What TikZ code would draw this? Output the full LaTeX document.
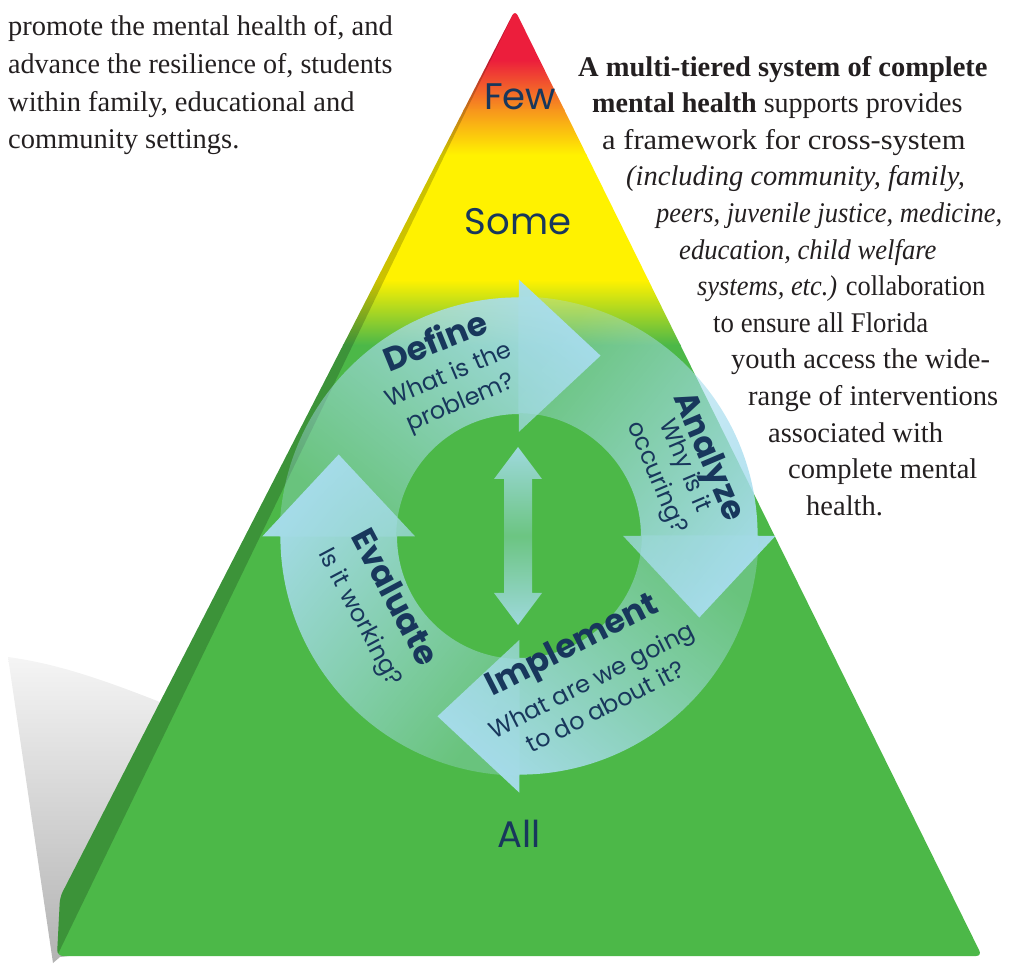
\documentclass[tikz,border=0pt]{standalone}
\usepackage{fontspec}
\setmainfont{Liberation Serif}
\newfontfamily\gothic{Poppins}
\usetikzlibrary{fadings}

\definecolor{pyrred}{RGB}{236,30,60}
\definecolor{pyrorange}{RGB}{247,148,29}
\definecolor{pyryellow}{RGB}{255,242,0}
\definecolor{pyrgreen}{RGB}{76,184,72}
\definecolor{ringblue}{RGB}{168,221,238}
\definecolor{navy}{RGB}{24,55,92}
\definecolor{ink}{RGB}{35,31,32}

\tikzfading[name=fade tail, left color=transparent!68, right color=transparent!5]
\tikzfading[name=fade middle, top color=transparent!10, bottom color=transparent!10, middle color=transparent!65]

\tikzset{
  tier/.style={font=\gothic\fontsize{37}{40}\selectfont, text=navy},
  cycletitle/.style={font=\gothic\bfseries\fontsize{33}{36}\selectfont, text=navy, inner sep=0pt},
  cyclenote/.style={font=\gothic\fontsize{24}{30}\selectfont, text=navy, inner sep=0pt, align=center},
  bodytext/.style={anchor=base west, inner sep=0pt, font=\fontsize{28.5}{36}\selectfont, text=ink}
}

\begin{document}
\begin{tikzpicture}[x=1pt, y=1pt]
\useasboundingbox (0,0) rectangle (1016,-964);

% grey shadow behind the pyramid
\shade[top color=gray!8, bottom color=gray!60] (8,-657) .. controls (60,-664) and (110,-682) .. (175,-708) -- (120,-950) -- (60,-957) -- (53,-963) -- cycle;

% pyramid, coloured in bands
\begin{scope}
\clip[rounded corners=6pt] (515,-10) -- (60,-897) -- (57,-956) -- (982,-956) -- cycle;
\fill[pyrred] (0,0) rectangle (1016,-61);
\fill[pyryellow] (0,-154) rectangle (1016,-281);
\fill[pyrgreen] (0,-344) rectangle (1016,-964);
\shade[top color=pyrred, bottom color=pyrorange] (0,-60) rectangle (1016,-110);
\shade[top color=pyrorange, bottom color=pyryellow] (0,-109) rectangle (1016,-155);
\shade[top color=pyryellow, bottom color=pyrgreen] (0,-280) rectangle (1016,-345);
% darker side face
\fill[black, opacity=0.2] (515,-10) -- (60,-897) -- (57,-956) -- cycle;
\end{scope}

\node[tier] (few) at (520,-97) {Few};
\node[tier] (some) at (518,-222) {Some};
\node[tier] (all) at (519,-834) {All};

% the four arrows of the cycle
\begin{scope}[shift={(519,-536)}]
\foreach \base/\fade in {90/45, 0/-45, -90/-135, 180/135}
  \fill[ringblue, path fading=fade tail, fading angle=\fade]
    (\base+90:240) arc[start angle=\base+90, end angle=\base, radius=240]
    -- (\base:258) -- (\base-24.3:199.2) -- (\base:105) -- (\base:123)
    arc[start angle=\base, end angle=\base+90, radius=123] -- cycle;
\end{scope}

% double arrow in the middle
\fill[ringblue, path fading=fade middle] (518,-447) -- (542,-479) -- (532,-479) -- (532,-593) -- (542,-593)
  -- (518,-625) -- (494,-593) -- (504,-593) -- (504,-479) -- (494,-479) -- cycle;

\node[cycletitle, rotate=22] (define) at (435,-340) {Define};
\node[cyclenote, rotate=23] (definenote) at (455,-390) {What is the\\problem?};
\node[cycletitle, rotate=-67] (analyze) at (707,-457) {Analyze};
\node[cyclenote, rotate=-67] (analyzenote) at (670,-472) {Why is it\\occuring?};
\node[cycletitle, rotate=27] (implement) at (573,-647) {Implement};
\node[cyclenote, rotate=27] (implementnote) at (598,-693) {What are we going\\to do about it?};
\node[cycletitle, rotate=-62] (evaluate) at (396,-597) {Evaluate};
\node[cyclenote, rotate=-62] (evaluatenote) at (359,-618) {Is it working?};

% text on the left
\node[bodytext] (left1) at (8,-35) {promote the mental health of, and};
\node[bodytext] (left2) at (8,-73) {\scalebox{0.985}[1]{advance the resilience of, students}};
\node[bodytext] (left3) at (8,-111) {within family, educational and};
\node[bodytext] (left4) at (8,-148) {community settings.};

% text on the right
\node[bodytext] (right1) at (578,-76) {\textbf{A multi-tiered system of complete}};
\node[bodytext] (right2) at (592,-112.6) {\scalebox{0.985}[1]{\textbf{mental health} supports provides}};
\node[bodytext] (right3) at (602,-149.2) {\scalebox{1.07}[1]{a framework for cross-system}};
\node[bodytext] (right4) at (626,-185.8) {\textit{(including community, family,}};
\node[bodytext] (right5) at (656,-222.4) {\scalebox{0.93}[1]{\textit{peers, juvenile justice, medicine,}}};
\node[bodytext] (right6) at (679,-259) {\scalebox{0.935}[1]{\textit{education, child welfare}}};
\node[bodytext] (right7) at (697,-295.6) {\scalebox{0.926}[1]{\textit{systems, etc.)} collaboration}};
\node[bodytext] (right8) at (713,-332.2) {\scalebox{0.94}[1]{to ensure all Florida}};
\node[bodytext] (right9) at (731,-368.8) {youth access the wide-};
\node[bodytext] (right10) at (748,-405.4) {range of interventions};
\node[bodytext] (right11) at (768,-442) {associated with};
\node[bodytext] (right12) at (788,-478.6) {complete mental};
\node[bodytext] (right13) at (806,-515.2) {health.};

\end{tikzpicture}
\end{document}
